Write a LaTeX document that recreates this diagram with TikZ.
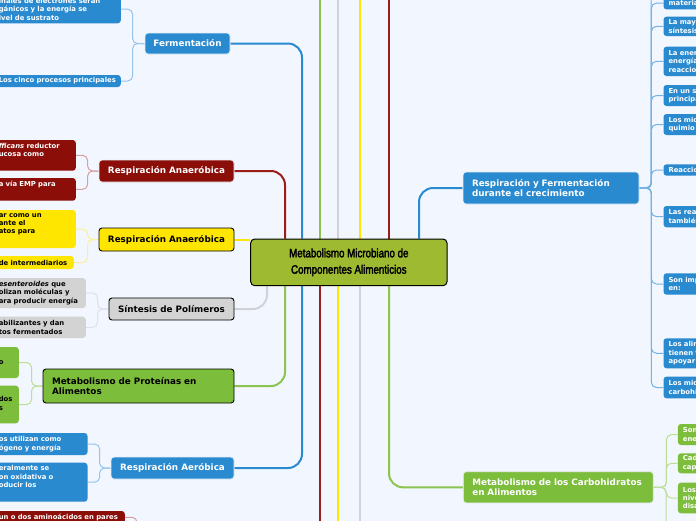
\documentclass[tikz,border=0pt]{standalone}
\usepackage{fontspec}
\setmainfont{DejaVu Sans}
\newfontfamily\cfont[FakeStretch=0.8,FakeBold=2.5]{Liberation Sans}
\usetikzlibrary{calc}
\hyphenpenalty=10000
\exhyphenpenalty=10000
\pgfdeclarelayer{bg}
\pgfdeclarelayer{edges}
\pgfsetlayers{bg,edges,main}
\definecolor{bgc}{RGB}{242,246,254}
\definecolor{bluef}{RGB}{42,138,208}
\definecolor{redf}{RGB}{139,14,9}
\definecolor{yelf}{RGB}{255,230,0}
\definecolor{grayf}{RGB}{211,211,211}
\definecolor{greenf}{RGB}{125,189,60}
\definecolor{centf}{RGB}{158,186,48}
\definecolor{lightbd}{RGB}{232,238,246}
\definecolor{blueb}{RGB}{150,196,235}
\definecolor{redb}{RGB}{214,160,160}
\definecolor{yelb}{RGB}{255,238,150}
\definecolor{grayb}{RGB}{224,225,230}
\definecolor{greenb}{RGB}{188,222,150}
\definecolor{redm}{RGB}{155,28,24}
\definecolor{greenm}{RGB}{140,196,80}
\definecolor{graym}{RGB}{210,210,214}
\tikzset{
  mfont/.style={font=\fontsize{8.8}{10.7}\selectfont\bfseries},
  sfont/.style={font=\fontsize{6.85}{8.4}\selectfont\bfseries},
  box/.style={rounded corners=3pt, inner xsep=4pt, inner ysep=0pt},
  mblue/.style={box, mfont, fill=bluef, draw=lightbd, line width=0.8pt, text=white},
  mred/.style={box, mfont, fill=redf, draw=lightbd, line width=0.8pt, text=white},
  myel/.style={box, mfont, fill=yelf, draw=black, line width=0.9pt, text=black},
  mgray/.style={box, mfont, fill=grayf, draw=black, line width=0.9pt, text=black},
  mgreen/.style={box, mfont, fill=greenf, draw=black, line width=0.9pt, text=black},
  mgreenw/.style={box, mfont, fill=greenf, draw=lightbd, line width=0.8pt, text=white},
  cblue/.style={box, sfont, fill=bluef, text=white, align=left},
  cred/.style={box, sfont, fill=redf, text=white, align=left},
  cyel/.style={box, sfont, fill=yelf, text=black, align=left},
  cgray/.style={box, sfont, fill=grayf, text=black, align=left},
  cgreen/.style={box, sfont, fill=greenf, text=black, align=left},
  cgreenw/.style={box, sfont, fill=greenf, text=white, align=left},
  lch/.style={anchor=east},
  rch/.style={anchor=west, text width=50pt, inner xsep=5pt},
  emain/.style={line width=2pt, rounded corners=14pt},
  ebr/.style={line width=1pt, rounded corners=5pt},
}
\begin{document}
\begin{tikzpicture}[x=1pt,y=-1pt]
\useasboundingbox (0,0) rectangle (696,520);
\clip (0,0) rectangle (696,520);
\begin{pgfonlayer}{bg}
\fill[bgc] (-5,-5) rectangle (701,525);
\end{pgfonlayer}

% centre
\node[box, rounded corners=4pt, fill=centf, draw=black, line width=1pt, minimum width=196.3pt, minimum height=46.7pt, align=center, font=\cfont\fontsize{12.2}{16.4}\selectfont] (cent) at (348.85,262.35) {Metabolismo Microbiano de\\Componentes Alimenticios};

% left main nodes
\node[mblue, minimum width=85pt, minimum height=21pt] (ferm) at (187.5,43.5) {Fermentación};
\node[mred, minimum width=135pt, minimum height=22pt] (ranae) at (166.5,171) {Respiración Anaeróbica};
\node[myel, minimum width=135pt, minimum height=23pt] (yanae) at (166.5,239.5) {Respiración Anaeróbica};
\node[mgray, minimum width=125pt, minimum height=22pt] (sint) at (171.5,309) {Síntesis de Polímeros};
\node[mgreen, minimum height=34pt, text width=173pt, inner xsep=9pt, align=left] (prot) at (138.5,386) {Metabolismo de Proteínas en\\Alimentos};
\node[mblue, minimum width=123pt, minimum height=22pt] (aer) at (172.5,468) {Respiración Aeróbica};

% right main nodes
\node[mblue, minimum height=32pt, text width=158pt, inner xsep=9pt, align=left] (rfc) at (551,188) {Respiración y Fermentación\\durante el crecimiento};
\node[mgreenw, minimum height=31.3pt, text width=172pt, inner xsep=9pt, align=left] (carb) at (558.3,487.3) {Metabolismo de los Carbohidratos\\en Alimentos};

% left children
\node[cblue, lch, minimum height=28.3pt, text width=118pt] (a1) at (121,9.15) {inales de electrones serán\\gánicos y la energía se\\ivel de sustrato};
\node[cblue, lch, minimum height=12pt, text width=118pt] (a2) at (121,81) {\mbox{Los cinco procesos principales}};
\node[cred, lch, minimum height=30.7pt, text width=73pt] (b1) at (76,155.35) {\textit{fficans} reductor\\ucosa como\\\strut};
\node[cred, lch, minimum height=22.7pt, text width=73pt] (b2) at (76,189.35) {a vía EMP para\\\strut};
\node[cyel, lch, minimum height=38pt, text width=73pt] (c1) at (76,229) {ar como un\\ante el\\atos para\\\strut};
\node[cyel, lch, minimum height=13pt, text width=71pt] (c2) at (74,262.5) {de intermediarios};
\node[cgray, lch, minimum height=30pt, text width=83pt] (d1) at (86,293) {\textit{esenteroides} que\\olizan moléculas y\\ara producir energía};
\node[cgray, lch, minimum height=21.3pt, text width=83pt] (d2) at (86,327.35) {abilizantes y dan\\tos fermentados};
\node[cgreen, lch, minimum height=31pt, text width=16pt] (e1) at (19,362.5) {\strut\\o\\\strut};
\node[cgreen, lch, minimum height=37.6pt, text width=16pt] (e2) at (19,404.5) {\strut\\dos\\s\\\strut};
\node[cblue, lch, minimum height=22pt, text width=84.7pt] (f1) at (87.7,444) {os utilizan como\\ógeno y energía};
\node[cblue, lch, minimum height=39pt, text width=84.7pt] (f2) at (87.7,482.2) {eralmente se\\on oxidativa o\\oducir los\\\strut};
\node[cred, lch, minimum height=12.6pt, text width=122pt] (g1) at (125,517.3) {un o dos aminoácidos en pares};

% right children
\node[cblue, rch, minimum height=12.4pt] (r1) at (663.3,3.2) {materia};
\node[cblue, rch, minimum height=19.3pt] (r2) at (663.3,26.35) {La may\\síntesis};
\node[cblue, rch, minimum height=29.3pt] (r3) at (663.3,61.35) {La ener\\energía\\reaccio};
\node[cblue, rch, minimum height=21pt] (r4) at (663.3,95.5) {En un s\\principa};
\node[cblue, rch, minimum height=21pt] (r5) at (663.3,124.5) {Los mic\\quimio};
\node[cblue, rch, minimum height=11.4pt] (r6) at (663.3,170) {Reaccio};
\node[cblue, rch, minimum height=21.3pt] (r7) at (663.3,216.65) {Las rea\\también};
\node[cblue, rch, minimum height=21.4pt] (r8) at (663.3,284) {Son imp\\en:};
\node[cblue, rch, minimum height=30pt] (r9) at (663.3,353.3) {Los alim\\tienen t\\apoyar};
\node[cblue, rch, minimum height=21.6pt] (r10) at (663.3,387.5) {Los mic\\carbohi};
\node[cgreenw, rch, minimum height=21pt] (s1) at (677.7,434.5) {Son\\ene};
\node[cgreenw, rch, minimum height=20pt] (s2) at (677.7,463.3) {Cad\\cap};
\node[cgreenw, rch, minimum height=30.6pt] (s3) at (677.7,498) {Los\\nive\\disa};

% coordinates
\coordinate (xa) at (267,0);
\coordinate (xb) at (285,0);
\coordinate (xc) at (302,0);
\coordinate (xd) at (320,0);
\coordinate (xe) at (338,0);
\coordinate (xf) at (360,0);
\coordinate (xg) at (389,0);
\coordinate (xh) at (419,0);
\coordinate (topY) at (0,-10);
\coordinate (botY) at (0,530);
\coordinate (rb) at (651,-10);
\coordinate (gb) at (666,530);
\coordinate (gp) at (137,540);

\begin{pgfonlayer}{edges}
% main connectors
\draw[emain, bluef] (cent.north -| xc) |- (ferm.east);
\draw[emain, redm] (cent.north -| xb) |- (ranae.east);
\draw[line width=2pt, yelf] (yanae.east) -- (yanae.east -| cent.west);
\draw[emain, graym] (cent.south -| xa) |- (sint.east);
\draw[emain, greenm] (cent.south -| xb) |- (prot.east);
\draw[emain, bluef] (cent.south -| xc) |- (aer.east);
\draw[emain, bluef] (cent.north -| xh) |- (rfc.west);
\draw[emain, greenm] (cent.south -| xg) |- (carb.west);
% pass-through lines
\draw[line width=2pt, greenm] (cent.north -| xd) -- (xd |- topY);
\draw[line width=2pt, graym] (cent.north -| xe) -- (xe |- topY);
\draw[line width=2pt, yelf] (cent.north -| xf) -- (xf |- topY);
\draw[line width=2pt, redm] (cent.north -| xg) -- (xg |- topY);
\draw[line width=2pt, redm] (cent.south -| xd) -- (xd |- botY);
\draw[line width=2pt, yelf] (cent.south -| xe) -- (xe |- botY);
\draw[line width=2pt, graym] (cent.south -| xf) -- (xf |- botY);
% brackets
\foreach \c in {a1,a2} \draw[ebr, blueb] (ferm.west) -- ++(-12,0) |- (\c.east);
\foreach \c in {b1,b2} \draw[ebr, redb] (ranae.west) -- ++(-11,0) |- (\c.east);
\foreach \c in {c1,c2} \draw[ebr, yelb] (yanae.west) -- ++(-11,0) |- (\c.east);
\foreach \c in {d1,d2} \draw[ebr, grayb] (sint.west) -- ++(-11,0) |- (\c.east);
\foreach \c in {e1,e2} \draw[ebr, greenb] (prot.west) -- ++(-11,0) |- (\c.east);
\foreach \c in {f1,f2} \draw[ebr, blueb] (aer.west) -- ++(-11,0) |- (\c.east);
\draw[ebr, redb] (g1.east) -| (gp);
\foreach \c in {r1,r2,r3,r4,r5,r6,r7,r8,r9,r10} \draw[ebr, blueb!70!bluef] (rfc.east) -- ++(12,0) |- (\c.west);
\draw[ebr, blueb!70!bluef] (rfc.east) -| (rb);
\foreach \c in {s1,s2,s3} \draw[ebr, greenb] (carb.east) -- ++(12.7,0) |- (\c.west);
\draw[ebr, greenb] (carb.east) -| (gb);
\end{pgfonlayer}
\end{tikzpicture}
\end{document}
